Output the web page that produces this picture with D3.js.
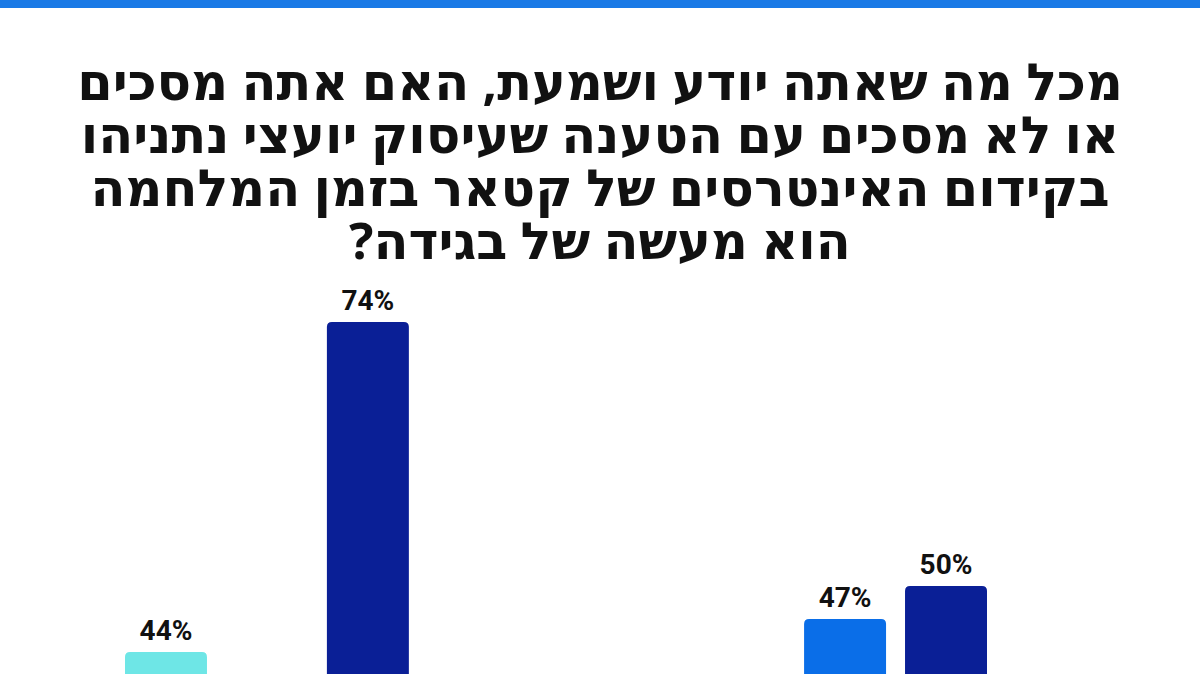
<!DOCTYPE html>
<html><head><meta charset="utf-8">
<script src="https://cdn.jsdelivr.net/npm/d3@7"></script>
<style>body{margin:0;background:#fff;overflow:hidden}</style>
</head><body>
<script>
const titleLines = ['מכל מה שאתה יודע ושמעת, האם אתה מסכים', 'או לא מסכים עם הטענה שעיסוק יועצי נתניהו', 'בקידום האינטרסים של קטאר בזמן המלחמה', 'הוא מעשה של בגידה?'];
const groups = ['g1', 'g2'];
const series = ['s1', 's2', 's3'];
const colors = ['#6ee6e6', '#0a6ee8', '#0a1f96'];
const values = { g1: [44, 30, 74], g2: [39, 47, 50] };

const W = 1200, H = 674;
const svg = d3.select('body').append('svg').attr('width', W).attr('height', H);
svg.append('rect').attr('width', W).attr('height', 8).attr('fill', '#1a7ae6');

svg.append('g').selectAll('text').data(titleLines).join('text')
  .attr('x', 600).attr('y', (d, i) => 100 + i * 53)
  .attr('text-anchor', 'middle').attr('direction', 'rtl')
  .attr('font-family', 'Noto Sans, DejaVu Sans, sans-serif').attr('font-weight', 700)
  .attr('font-size', 51).attr('fill', '#111').text(d => d);

const y = d3.scaleLinear().domain([0, 100]).range([1136, 36]);
const x0 = d3.scaleBand().domain(groups).range([125, 987]).paddingInner(0.509);
const x1 = d3.scaleBand().domain(series).range([0, x0.bandwidth()]).paddingInner(0.188);

const bars = [];
groups.forEach(g => series.forEach((s, i) => bars.push({ g, s, i, v: values[g][i] })));

const gb = svg.append('g');
gb.selectAll('path').data(bars).join('path')
  .attr('fill', d => colors[d.i])
  .attr('d', d => {
    const bx = x0(d.g) + x1(d.s), bw = x1.bandwidth(), by = y(d.v), r = 5;
    return `M${bx},${H + 10}V${by + r}Q${bx},${by} ${bx + r},${by}H${bx + bw - r}Q${bx + bw},${by} ${bx + bw},${by + r}V${H + 10}Z`;
  });
gb.selectAll('text').data(bars).join('text')
  .attr('x', d => x0(d.g) + x1(d.s) + x1.bandwidth() / 2)
  .attr('y', d => y(d.v) - 12)
  .attr('text-anchor', 'middle')
  .attr('font-family', 'Roboto, sans-serif').attr('font-weight', 700)
  .attr('font-size', 28).attr('fill', '#111')
  .text(d => d.v + '%');
</script>
</body></html>
